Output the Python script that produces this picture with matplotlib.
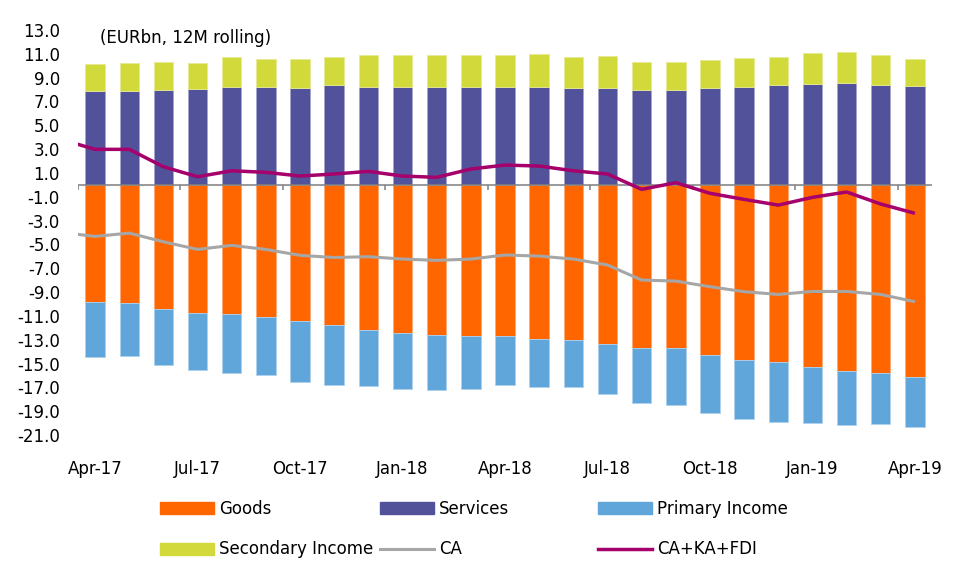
import matplotlib
matplotlib.use("Agg")
import matplotlib.pyplot as plt
from matplotlib.patches import Patch
from matplotlib.lines import Line2D
import numpy as np

months = ["Apr-17", "May-17", "Jun-17", "Jul-17", "Aug-17", "Sep-17", "Oct-17",
          "Nov-17", "Dec-17", "Jan-18", "Feb-18", "Mar-18", "Apr-18", "May-18",
          "Jun-18", "Jul-18", "Aug-18", "Sep-18", "Oct-18", "Nov-18", "Dec-18",
          "Jan-19", "Feb-19", "Mar-19", "Apr-19"]

goods = [-9.81, -9.93, -10.43, -10.76, -10.82, -11.10, -11.44, -11.77, -12.17,
         -12.44, -12.61, -12.67, -12.67, -12.95, -13.00, -13.34, -13.68, -13.68,
         -14.29, -14.68, -14.85, -15.30, -15.63, -15.80, -16.14]
primary = [-4.62, -4.42, -4.67, -4.76, -4.95, -4.84, -5.09, -5.01, -4.70,
           -4.68, -4.59, -4.45, -4.11, -4.00, -3.95, -4.20, -4.62, -4.78,
           -4.84, -4.96, -5.04, -4.67, -4.51, -4.26, -4.17]
services = [7.90, 7.90, 7.99, 8.07, 8.21, 8.21, 8.13, 8.38, 8.21, 8.21, 8.21,
            8.21, 8.21, 8.21, 8.13, 8.13, 7.96, 7.96, 8.13, 8.21, 8.38, 8.46,
            8.55, 8.38, 8.30]
secondary = [2.24, 2.35, 2.32, 2.18, 2.52, 2.35, 2.43, 2.35, 2.69, 2.69, 2.69,
             2.69, 2.69, 2.77, 2.60, 2.68, 2.35, 2.35, 2.35, 2.44, 2.35, 2.61,
             2.60, 2.52, 2.26]

# lines include the Mar-17 point, which sits just off the left edge
line_x = list(range(-1, 25))
ca = [-3.99, -4.33, -4.05, -4.78, -5.42, -5.08, -5.42, -5.92, -6.10, -6.03,
      -6.23, -6.34, -6.23, -5.89, -5.98, -6.23, -6.73, -7.99, -8.08, -8.55,
      -8.97, -9.20, -8.95, -8.95, -9.20, -9.81]
ca_ka_fdi = [3.82, 2.98, 2.98, 1.52, 0.68, 1.18, 1.05, 0.74, 0.91, 1.13, 0.74,
             0.63, 1.33, 1.66, 1.58, 1.18, 0.91, -0.38, 0.18, -0.71, -1.22,
             -1.70, -1.05, -0.60, -1.61, -2.39]

c_goods = "#FF6600"
c_serv = "#52529A"
c_prim = "#60A6DB"
c_sec = "#D2D93A"
c_ca = "#A6A6A6"
c_fdi = "#A5006B"

plt.rcParams["font.family"] = ["DejaVu Sans"]

fig = plt.figure(figsize=(9.62, 5.8), dpi=100)
ax = fig.add_axes([0.0811, 0.25, 0.8877, 0.6983])

x = np.arange(len(months))
w = 0.57
ax.bar(x, services, w, color=c_serv, edgecolor="#a4a4cc", linewidth=0.6, zorder=2)
ax.bar(x, secondary, w, bottom=services, color=c_sec, edgecolor="#e6ea94",
       linewidth=0.6, zorder=2)
ax.bar(x, goods, w, color=c_goods, edgecolor="#ffa873", linewidth=0.6, zorder=2)
ax.bar(x, primary, w, bottom=goods, color=c_prim, edgecolor="#aed1ef",
       linewidth=0.6, zorder=2)

ax.axhline(0, color="#7F7F7F", linewidth=1.1, zorder=3)
ax.vlines(np.arange(-0.5, 25, 3), -0.42, 0, color="#7F7F7F", linewidth=1.1,
          zorder=3)

ax.plot(line_x, ca, color=c_ca, linewidth=2.2, zorder=4, solid_capstyle="butt")
ax.plot(line_x, ca_ka_fdi, color=c_fdi, linewidth=2.5, zorder=5,
        solid_capstyle="butt")

ax.set_xlim(-0.5, 24.5)
ax.set_ylim(-21, 13)
ax.set_yticks(np.arange(-21, 14, 2))
ax.set_yticklabels([f"{v:.1f}" for v in np.arange(-21, 14, 2)], fontsize=12)
ax.set_xticks(x[::3])
ax.set_xticklabels(months[::3], fontsize=12)
ax.tick_params(axis="y", length=0, pad=13)
ax.tick_params(axis="x", length=0, pad=18)
for s in ax.spines.values():
    s.set_visible(False)

fig.text(0.104, 0.935, "(EURbn, 12M rolling)", fontsize=12, va="center",
         ha="left")

entries = [
    [(Patch(color=c_goods), "Goods"), (Patch(color=c_sec), "Secondary Income")],
    [(Patch(color=c_serv), "Services"),
     (Line2D([], [], color=c_ca, linewidth=2.2), "CA")],
    [(Patch(color=c_prim), "Primary Income"),
     (Line2D([], [], color=c_fdi, linewidth=2.5), "CA+KA+FDI")],
]
col_x = [160 / 962, 380 / 962, 598 / 962]
for cx, items in zip(col_x, entries):
    fig.legend([h for h, _ in items], [t for _, t in items], loc="upper left",
               bbox_to_anchor=(cx, 1 - 500 / 580), frameon=False, fontsize=12,
               handlelength=3.25, handleheight=0.75, handletextpad=0.3,
               labelspacing=1.35, borderpad=0, borderaxespad=0)

fig.savefig("out.png", dpi=100)
